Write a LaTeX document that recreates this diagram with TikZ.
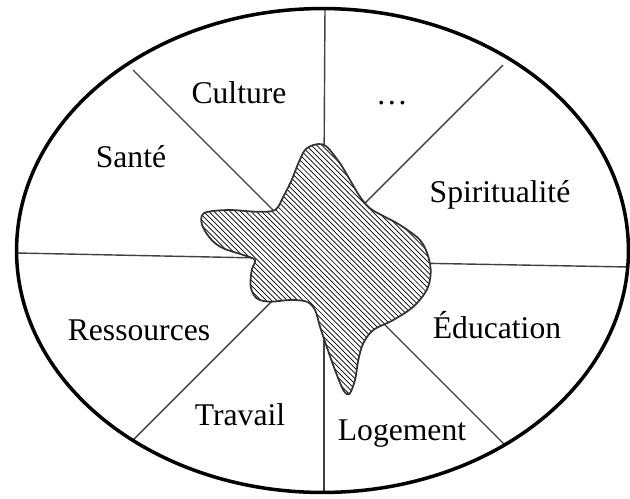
\documentclass[tikz,border=0pt]{standalone}
\usepackage{fontspec}
\setmainfont{Liberation Serif}
\usetikzlibrary{patterns}
\tikzset{
  rim/.style={line width=2pt},
  spoke/.style={line width=0.8pt, black!75},
  sector/.style={anchor=base, font=\fontsize{18}{20}\selectfont},
  core/.style={line width=1pt, black!80, pattern=north west lines, pattern color=black}
}
\begin{document}
\begin{tikzpicture}[x=0.02cm, y=-0.02cm]
\useasboundingbox (0,0) rectangle (630,498);
\draw[spoke] (325,8) -- (324,170);
\draw[spoke] (324,320) -- (324,493);
\draw[spoke] (17,253) -- (260,258);
\draw[spoke] (410,263) -- (629,267);
\draw[spoke] (133,70) -- (285,222);
\draw[spoke] (503,65) -- (355,213);
\draw[spoke] (133,440) -- (275,298);
\draw[spoke] (505,445) -- (370,310);
\fill[white] plot[smooth cycle, tension=0.55] coordinates {
  (313.3,145) (318.3,144) (326.7,146.7) (340,163.3) (350,180) (360,196.7)
  (370,208.3) (383.3,216) (400,225) (420,240) (428.3,256.7) (430.7,273.3)
  (426.7,290) (413.3,306.7) (393.3,320) (373.3,330) (363.3,343.3) (358.3,360)
  (355,380) (349.3,394) (343.3,390) (335,370) (326.7,346.7) (320,326.7)
  (315,310) (306.7,301.7) (290,300) (270,301.7) (256.7,298.3) (250.7,286.7)
  (251.7,270) (255,260) (243.3,255) (223.3,248.3) (211.7,240) (202.7,226.7)
  (201.7,216) (208.3,211.7) (230,210) (256.7,211.7) (275,210) (283.3,196.7)
  (291.7,180) (298.3,163.3) (305,150)};
\draw[core] plot[smooth cycle, tension=0.55] coordinates {
  (313.3,145) (318.3,144) (326.7,146.7) (340,163.3) (350,180) (360,196.7)
  (370,208.3) (383.3,216) (400,225) (420,240) (428.3,256.7) (430.7,273.3)
  (426.7,290) (413.3,306.7) (393.3,320) (373.3,330) (363.3,343.3) (358.3,360)
  (355,380) (349.3,394) (343.3,390) (335,370) (326.7,346.7) (320,326.7)
  (315,310) (306.7,301.7) (290,300) (270,301.7) (256.7,298.3) (250.7,286.7)
  (251.7,270) (255,260) (243.3,255) (223.3,248.3) (211.7,240) (202.7,226.7)
  (201.7,216) (208.3,211.7) (230,210) (256.7,211.7) (275,210) (283.3,196.7)
  (291.7,180) (298.3,163.3) (305,150)};
\draw[rim] (322.5,250.5) ellipse (6.12cm and 4.84cm);
\node[sector] (culture) at (239,103) {Culture};
\node[sector] (etc) at (392,104) {…};
\node[sector] (sante) at (131,167) {Santé};
\node[sector] (spirit) at (500,202) {Spiritualité};
\node[sector] (ressources) at (139,340) {Ressources};
\node[sector] (education) at (497,338) {Éducation};
\node[sector] (travail) at (240,425) {Travail};
\node[sector] (logement) at (402,440) {Logement};
\end{tikzpicture}
\end{document}
